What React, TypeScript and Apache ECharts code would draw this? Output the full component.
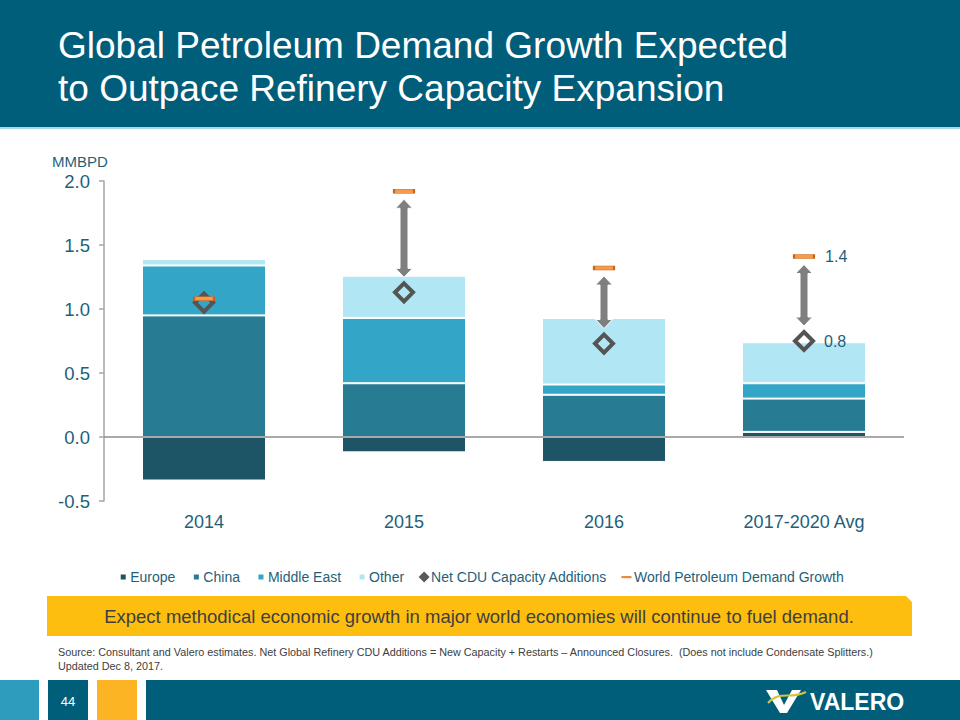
import React, { useEffect, useRef } from "react";
import * as echarts from "echarts";

const categories = ["2014", "2015", "2016", "2017-2020 Avg"];
const europe = [-0.34, -0.12, -0.195, 0.04];
const china = [0.95, 0.42, 0.33, 0.26];
const middleEast = [0.39, 0.51, 0.08, 0.12];
const other = [0.05, 0.33, 0.52, 0.32];
const netCdu = [1.05, 1.13, 0.73, 0.75];
const demandGrowth = [1.08, 1.92, 1.32, 1.41];
const yTicks = { min: -0.5, max: 2.0, interval: 0.5 };

const TEAL_TEXT = "#1f5f7a";

export default function App() {
  const ref = useRef<HTMLDivElement>(null);
  useEffect(() => {
    if (!ref.current) return;
    const chart = echarts.init(ref.current, undefined, { renderer: "svg" });
    const last = categories.length - 1;
    const arrowData = categories
      .map((_, i) => [i, netCdu[i], demandGrowth[i]])
      .filter((d) => d[2] - d[1] > 0.2);

    const sq = "path://M0,0M12,12M2.5,2.5h7v7h-7z";
    const option: any = {
      animation: false,
      backgroundColor: "#ffffff",
      textStyle: { fontFamily: "Liberation Sans, Arial, sans-serif" },
      grid: { left: 104, right: 56, top: 181, bottom: 219, containLabel: false },
      legend: {
        top: 565,
        left: "center",
        itemWidth: 12,
        itemHeight: 12,
        itemGap: 14,
        textStyle: { fontSize: 14, color: TEAL_TEXT, padding: [0, 0, 0, -4] },
        data: [
          { name: "Europe", icon: sq },
          { name: "China", icon: sq },
          { name: "Middle East", icon: sq },
          { name: "Other", icon: sq },
          {
            name: "Net CDU Capacity Additions",
            icon: "path://M0,0M12,12M6,0.5L11.5,6L6,11.5L0.5,6z",
            itemStyle: { color: "#595959", borderWidth: 0 },
          },
          {
            name: "World Petroleum Demand Growth",
            icon: "path://M0,0M12,12M0.5,5h10v2.2h-10z",
            itemStyle: { color: "#f0883a", borderWidth: 0 },
          },
        ],
      },
      xAxis: {
        type: "category",
        data: categories,
        axisLine: { show: false },
        axisTick: { show: false },
        axisLabel: { fontSize: 18, color: TEAL_TEXT, margin: 12 },
      },
      yAxis: {
        type: "value",
        min: yTicks.min,
        max: yTicks.max,
        interval: yTicks.interval,
        axisLine: { show: true, lineStyle: { color: "#a6a6a6", width: 1.5 } },
        axisTick: { show: true, length: 5, lineStyle: { color: "#a6a6a6", width: 1.5 } },
        splitLine: { show: false },
        axisLabel: {
          fontSize: 18.5,
          color: TEAL_TEXT,
          margin: 14,
          formatter: (v: number) => v.toFixed(1),
        },
      },
      series: [
        {
          name: "Europe",
          type: "bar",
          stack: "total",
          barWidth: "62%",
          data: europe,
          itemStyle: { color: "#1e5566", borderColor: "#ffffff", borderWidth: 1 },
          markLine: {
            silent: true,
            symbol: "none",
            label: { show: false },
            lineStyle: { color: "#8c8c8c", width: 1.5, type: "solid" },
            data: [{ yAxis: 0 }],
            z: 5,
          },
        },
        {
          name: "China",
          type: "bar",
          stack: "total",
          data: china,
          itemStyle: { color: "#277c94", borderColor: "#ffffff", borderWidth: 1 },
        },
        {
          name: "Middle East",
          type: "bar",
          stack: "total",
          data: middleEast,
          itemStyle: { color: "#33a5c6", borderColor: "#ffffff", borderWidth: 1 },
        },
        {
          name: "Other",
          type: "bar",
          stack: "total",
          data: other,
          itemStyle: { color: "#b1e7f5", borderColor: "#ffffff", borderWidth: 1 },
        },
        {
          name: "arrows",
          type: "custom",
          data: arrowData,
          z: 6,
          renderItem: (params: any, api: any) => {
            const pNet = api.coord([api.value(0), api.value(1)]);
            const pDem = api.coord([api.value(0), api.value(2)]);
            const x = pNet[0];
            const bot = pNet[1] - 15;
            const top = pDem[1] + 8;
            const hw = 8.5;
            const sw = 4;
            const hl = 9;
            return {
              type: "polygon",
              shape: {
                points: [
                  [x, top],
                  [x + hw, top + hl],
                  [x + sw, top + hl],
                  [x + sw, bot - hl],
                  [x + hw, bot - hl],
                  [x, bot],
                  [x - hw, bot - hl],
                  [x - sw, bot - hl],
                  [x - sw, top + hl],
                  [x - hw, top + hl],
                ],
              },
              style: { fill: "#7f7f7f", stroke: "#ffffff", lineWidth: 1 },
            };
          },
        },
        {
          name: "Net CDU Capacity Additions",
          type: "scatter",
          z: 7,
          symbol: "diamond",
          symbolSize: 18,
          itemStyle: { color: "rgba(0,0,0,0)", borderColor: "#545454", borderWidth: 4, opacity: 1 },
          data: netCdu.map((v, i) =>
            i === last
              ? {
                  value: v,
                  label: {
                    show: true,
                    position: "right",
                    distance: 9,
                    fontSize: 16,
                    color: TEAL_TEXT,
                    formatter: () => v.toFixed(1),
                  },
                }
              : v
          ),
        },
        {
          name: "World Petroleum Demand Growth",
          type: "scatter",
          z: 8,
          symbol: "rect",
          symbolSize: [20, 4],
          itemStyle: { color: "#f59b4c", borderColor: "#c8651c", borderWidth: 1, opacity: 1 },
          data: demandGrowth.map((v, i) =>
            i === last
              ? {
                  value: v,
                  label: {
                    show: true,
                    position: "right",
                    distance: 10,
                    fontSize: 16,
                    color: TEAL_TEXT,
                    formatter: () => v.toFixed(1),
                  },
                }
              : v
          ),
        },
      ],
      graphic: [
        { type: "rect", silent: true, z: -1, shape: { x: 0, y: 0, width: 960, height: 127 }, style: { fill: "#005e7b" } },
        { type: "rect", silent: true, z: -1, shape: { x: 0, y: 127, width: 960, height: 2 }, style: { fill: "#a9d9e6" } },
        {
          type: "text",
          x: 58,
          y: 24,
          style: {
            text: "Global Petroleum Demand Growth Expected\nto Outpace Refinery Capacity Expansion",
            fill: "#ffffff",
            font: "37px 'Liberation Sans', Arial, sans-serif",
            lineHeight: 43,
          },
        },
        {
          type: "text",
          x: 52,
          y: 154,
          style: { text: "MMBPD", fill: TEAL_TEXT, font: "15px 'Liberation Sans', Arial, sans-serif" },
        },
        {
          type: "polygon",
          silent: true,
          shape: {
            points: [
              [47, 596],
              [906, 596],
              [912, 602],
              [912, 636],
              [47, 636],
            ],
          },
          style: { fill: "#fdbe0f" },
        },
        {
          type: "text",
          x: 479,
          y: 616,
          style: {
            text: "Expect methodical economic growth in major world economies will continue to fuel demand.",
            fill: "#3f3f3f",
            font: "18.5px 'Liberation Sans', Arial, sans-serif",
            align: "center",
            verticalAlign: "middle",
          },
        },
        {
          type: "text",
          x: 58,
          y: 645,
          style: {
            text:
              "Source: Consultant and Valero estimates. Net Global Refinery CDU Additions = New Capacity + Restarts \u2013 Announced Closures.  (Does not include Condensate Splitters.)\nUpdated Dec 8, 2017.",
            fill: "#404040",
            font: "10.8px 'Liberation Sans', Arial, sans-serif",
            lineHeight: 14,
          },
        },
        { type: "rect", silent: true, shape: { x: 0, y: 680, width: 39, height: 40 }, style: { fill: "#2e9cbd" } },
        { type: "rect", silent: true, shape: { x: 48, y: 680, width: 40, height: 40 }, style: { fill: "#005e7b" } },
        { type: "rect", silent: true, shape: { x: 97, y: 680, width: 40, height: 40 }, style: { fill: "#fcb424" } },
        { type: "rect", silent: true, shape: { x: 146, y: 680, width: 814, height: 40 }, style: { fill: "#005e7b" } },
        {
          type: "text",
          x: 68,
          y: 701,
          style: {
            text: "44",
            fill: "#ffffff",
            font: "13px 'Liberation Sans', Arial, sans-serif",
            align: "center",
            verticalAlign: "middle",
          },
        },
        {
          type: "polygon",
          silent: true,
          shape: {
            points: [
              [766, 690],
              [777, 690],
              [784, 705],
              [792, 690],
              [801, 690],
              [787, 713],
              [780, 713],
            ],
          },
          style: { fill: "#ffffff" },
        },
        {
          type: "bezierCurve",
          silent: true,
          shape: { x1: 768, y1: 703, x2: 806, y2: 692, cpx1: 780, cpy1: 690, cpx2: 790, cpy2: 700 },
          style: { stroke: "#d8c23a", lineWidth: 2, fill: "none" },
        },
        {
          type: "text",
          x: 810,
          y: 702,
          style: {
            text: "VALERO",
            fill: "#ffffff",
            font: "bold 23px 'Liberation Sans', Arial, sans-serif",
            verticalAlign: "middle",
          },
        },
      ],
    };
    chart.setOption(option);
    return () => chart.dispose();
  }, []);
  return (
    <div
      ref={ref}
      style={{ position: "fixed", left: 0, top: 0, width: 960, height: 720 }}
    />
  );
}
